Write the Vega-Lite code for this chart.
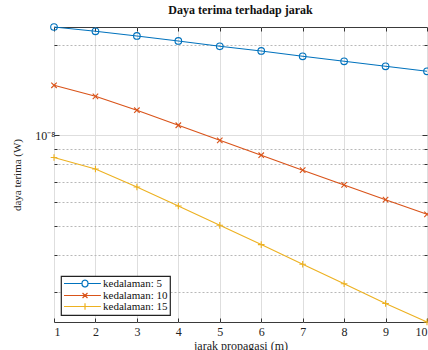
{
  "$schema": "https://vega.github.io/schema/vega-lite/v6.json",
  "autosize": {"type": "none"},
  "width": 373,
  "height": 295,
  "padding": {"left": 54, "top": 27, "right": 1, "bottom": 28},
  "background": "white",
  "title": {"text": "Daya terima terhadap jarak", "font": "Liberation Serif", "fontSize": 12, "fontWeight": "bold", "color": "#111111", "offset": 4},
  "data": {"values": [
    {"jarak": 1, "daya": 2.296e-8, "series": "kedalaman: 5"},
    {"jarak": 2, "daya": 2.222e-8, "series": "kedalaman: 5"},
    {"jarak": 3, "daya": 2.143e-8, "series": "kedalaman: 5"},
    {"jarak": 4, "daya": 2.063e-8, "series": "kedalaman: 5"},
    {"jarak": 5, "daya": 1.980e-8, "series": "kedalaman: 5"},
    {"jarak": 6, "daya": 1.910e-8, "series": "kedalaman: 5"},
    {"jarak": 7, "daya": 1.834e-8, "series": "kedalaman: 5"},
    {"jarak": 8, "daya": 1.765e-8, "series": "kedalaman: 5"},
    {"jarak": 9, "daya": 1.698e-8, "series": "kedalaman: 5"},
    {"jarak": 10, "daya": 1.634e-8, "series": "kedalaman: 5"},
    {"jarak": 1, "daya": 1.468e-8, "series": "kedalaman: 10"},
    {"jarak": 2, "daya": 1.349e-8, "series": "kedalaman: 10"},
    {"jarak": 3, "daya": 1.212e-8, "series": "kedalaman: 10"},
    {"jarak": 4, "daya": 1.080e-8, "series": "kedalaman: 10"},
    {"jarak": 5, "daya": 9.62e-9, "series": "kedalaman: 10"},
    {"jarak": 6, "daya": 8.58e-9, "series": "kedalaman: 10"},
    {"jarak": 7, "daya": 7.65e-9, "series": "kedalaman: 10"},
    {"jarak": 8, "daya": 6.83e-9, "series": "kedalaman: 10"},
    {"jarak": 9, "daya": 6.10e-9, "series": "kedalaman: 10"},
    {"jarak": 10, "daya": 5.45e-9, "series": "kedalaman: 10"},
    {"jarak": 1, "daya": 8.43e-9, "series": "kedalaman: 15"},
    {"jarak": 2, "daya": 7.72e-9, "series": "kedalaman: 15"},
    {"jarak": 3, "daya": 6.72e-9, "series": "kedalaman: 15"},
    {"jarak": 4, "daya": 5.81e-9, "series": "kedalaman: 15"},
    {"jarak": 5, "daya": 5.01e-9, "series": "kedalaman: 15"},
    {"jarak": 6, "daya": 4.32e-9, "series": "kedalaman: 15"},
    {"jarak": 7, "daya": 3.715e-9, "series": "kedalaman: 15"},
    {"jarak": 8, "daya": 3.20e-9, "series": "kedalaman: 15"},
    {"jarak": 9, "daya": 2.75e-9, "series": "kedalaman: 15"},
    {"jarak": 10, "daya": 2.385e-9, "series": "kedalaman: 15"}
  ]},
  "layer": [
    {
      "mark": {"type": "line", "strokeWidth": 1.1},
      "encoding": {
        "x": {"field": "jarak", "type": "quantitative", "scale": {"domain": [1, 10], "nice": false},
          "axis": {"orient": "bottom", "values": [1,2,3,4,5,6,7,8,9,10], "title": "jarak propagasi (m)", "grid": true, "gridColor": "#dedede", "gridWidth": 1, "tickSize": -4, "tickColor": "#333333", "labelPadding": 8, "titlePadding": 3,
            "labelFont": "Liberation Serif", "labelFontSize": 12, "labelColor": "#222222", "titleFont": "Liberation Serif", "titleFontSize": 12, "titleFontWeight": "normal", "titleColor": "#222222"}},
        "y": {"field": "daya", "type": "quantitative", "scale": {"type": "log", "domain": [2.385e-9, 2.296e-8], "nice": false},
          "axis": {"orient": "left", "values": [3e-9,4e-9,5e-9,6e-9,7e-9,8e-9,9e-9,1e-8,2e-8], "title": "daya terima (W)", "grid": true,
            "labelExpr": "datum.value > 9.9e-9 && datum.value < 1.01e-8 ? '10⁻⁸' : ''",
            "gridDash": {"condition": {"test": "datum.value > 9.9e-9 && datum.value < 1.01e-8", "value": []}, "value": [2, 2]},
            "gridColor": {"condition": {"test": "datum.value > 9.9e-9 && datum.value < 1.01e-8", "value": "#dedede"}, "value": "#b8b8b8"},
            "tickSize": {"condition": {"test": "datum.value > 9.9e-9 && datum.value < 1.01e-8", "value": -5}, "value": -3},
            "tickColor": "#333333", "labelPadding": 4, "titlePadding": 12,
            "labelFont": "Liberation Serif", "labelFontSize": 12, "labelColor": "#222222", "titleFont": "Liberation Serif", "titleFontSize": 11, "titleFontWeight": "normal", "titleColor": "#222222"}},
        "color": {"field": "series", "type": "nominal",
          "scale": {"domain": ["kedalaman: 5", "kedalaman: 10", "kedalaman: 15"], "range": ["#0072BD", "#D95319", "#EDB120"]},
          "legend": {"title": null, "orient": "bottom-left", "offset": 7, "padding": 2, "fillColor": "white", "strokeColor": "#222222",
            "labelFont": "Liberation Serif", "labelFontSize": 11, "labelColor": "#111111", "symbolSize": 81, "symbolStrokeWidth": 1.2, "rowPadding": -1, "labelOffset": 29,
            "encode": {"symbols": {"update": {
              "fill": {"value": "transparent"},
              "shape": {"signal": "datum.value == 'kedalaman: 5' ? 'M-1,0H3M4.33,0H7.2M4.33,0A0.67,0.67 0 1,1 3,0A0.67,0.67 0 1,1 4.33,0' : (datum.value == 'kedalaman: 10' ? 'M-1,0H7.2M3.12,-0.55L4.22,0.55M3.12,0.55L4.22,-0.55' : 'M-1,0H7.2M3.67,-0.7V0.7')"}
            }}}}}
      }
    },
    {
      "transform": [{"filter": "datum.series == 'kedalaman: 5'"}],
      "mark": {"type": "point", "shape": "circle", "filled": false, "size": 44, "strokeWidth": 1.1, "opacity": 1},
      "encoding": {
        "x": {"field": "jarak", "type": "quantitative",
          "axis": {"orient": "top", "values": [1,2,3,4,5,6,7,8,9,10], "title": null, "labels": false, "grid": false, "tickSize": -4, "tickColor": "#333333"}},
        "y": {"field": "daya", "type": "quantitative",
          "axis": {"orient": "right", "values": [3e-9,4e-9,5e-9,6e-9,7e-9,8e-9,9e-9,1e-8,2e-8], "title": null, "labels": false, "grid": false,
            "tickSize": {"condition": {"test": "datum.value > 9.9e-9 && datum.value < 1.01e-8", "value": -5}, "value": -3}, "tickColor": "#333333"}},
        "color": {"field": "series", "type": "nominal", "legend": null}
      }
    },
    {
      "transform": [{"filter": "datum.series == 'kedalaman: 10'"}],
      "mark": {"type": "point", "shape": "M-1,-1L1,1M-1,1L1,-1", "filled": false, "size": 30, "strokeWidth": 1.1, "opacity": 1},
      "encoding": {
        "x": {"field": "jarak", "type": "quantitative", "axis": null},
        "y": {"field": "daya", "type": "quantitative", "axis": null},
        "color": {"field": "series", "type": "nominal", "legend": null}
      }
    },
    {
      "transform": [{"filter": "datum.series == 'kedalaman: 15'"}],
      "mark": {"type": "point", "shape": "M-1,0H1M0,-1V1", "filled": false, "size": 44, "strokeWidth": 1.1, "opacity": 1},
      "encoding": {
        "x": {"field": "jarak", "type": "quantitative", "axis": null},
        "y": {"field": "daya", "type": "quantitative", "axis": null},
        "color": {"field": "series", "type": "nominal", "legend": null}
      }
    }
  ],
  "resolve": {"axis": {"x": "independent", "y": "independent"}},
  "config": {
    "view": {"stroke": "#3a3a3a", "strokeWidth": 1},
    "axis": {"domain": false, "labelFont": "Liberation Serif", "titleFont": "Liberation Serif"},
    "legend": {"labelFont": "Liberation Serif", "strokeWidth": 1.2}
  }
}
